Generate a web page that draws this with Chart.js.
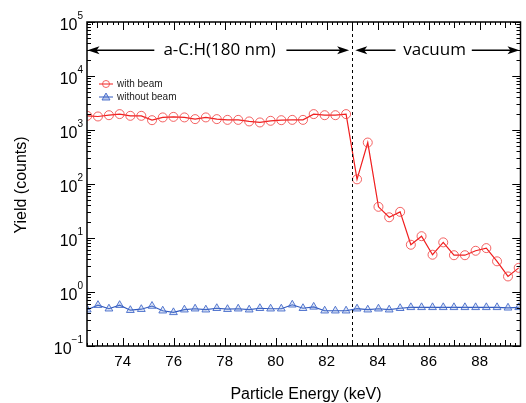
<!DOCTYPE html>
<html>
<head>
<meta charset="utf-8">
<script src="https://cdn.jsdelivr.net/npm/chart.js@4.4.1/dist/chart.umd.min.js"></script>
<style>
html,body{margin:0;padding:0;background:#fff;}
#wrap{width:526px;height:403px;position:relative;}
</style>
</head>
<body>
<div id="wrap"><canvas id="c" width="526" height="403"></canvas></div>
<script>
// ---- data ----
const energies = [72.61,73.03,73.46,73.88,74.30,74.73,75.15,75.57,75.99,76.42,76.84,77.26,77.69,78.11,78.53,78.96,79.38,79.80,80.22,80.65,81.07,81.49,81.92,82.34,82.76,83.19,83.61,84.03,84.45,84.88,85.30,85.72,86.15,86.57,86.99,87.42,87.84,88.26,88.68,89.11,89.53];
const withBeam = [1830,1780,1880,1970,1830,1830,1520,1710,1750,1710,1590,1710,1590,1540,1540,1440,1380,1480,1520,1540,1540,1970,1880,1880,1970,122,586,37.8,24.2,30.5,7.5,10.8,4.9,8.3,4.8,4.8,5.8,6.5,3.7,1.94,2.8];
const withoutBeam = [0.47,0.57,0.49,0.57,0.46,0.48,0.55,0.45,0.42,0.47,0.49,0.47,0.50,0.48,0.49,0.47,0.50,0.49,0.49,0.58,0.50,0.53,0.45,0.45,0.45,0.49,0.47,0.49,0.47,0.50,0.52,0.52,0.52,0.52,0.52,0.52,0.52,0.52,0.52,0.51,0.52];
const seriesNames = ["with beam","without beam"];
const xTickLabels = [74,76,78,80,82,84,86,88];
const yDecades = [-1,0,1,2,3,4,5];
const boundaryEnergy = 83.0;
const regionLabels = ["a-C:H(180 nm)","vacuum"];

const RED = "rgb(240,30,30)";
const REDPT = "rgba(240,60,60,0.8)";
const BLUE = "rgb(50,90,190)";
const BLUEPT = "rgba(60,100,200,0.85)";

const frame = {
  id:'frame',
  afterDraw(chart){
    const ctx = chart.ctx, a = chart.chartArea;
    const xs = chart.scales.x, ys = chart.scales.y;
    ctx.save();
    // dashed boundary
    ctx.strokeStyle = '#000'; ctx.lineWidth = 1; ctx.setLineDash([3,3]);
    const bx = Math.round(xs.getPixelForValue(boundaryEnergy))+0.5;
    ctx.beginPath(); ctx.moveTo(bx,a.top); ctx.lineTo(bx,a.bottom); ctx.stroke();
    ctx.setLineDash([]);
    // box
    ctx.lineWidth = 1.5;
    ctx.strokeRect(a.left, a.top, a.right-a.left, a.bottom-a.top);
    ctx.lineWidth = 1;
    // x ticks
    for (let k = 726; k <= 896; k++){
      const v = k/10;
      if (Math.abs(v*5 - Math.round(v*5))>1e-6) continue;
      const px = Math.round(xs.getPixelForValue(v))+0.5;
      if (px < a.left || px > a.right) continue;
      let len = 3;
      if (Math.abs(v-Math.round(v))<1e-6) len = (Math.round(v)%2===0)?8:6;
      ctx.beginPath();
      ctx.moveTo(px,a.bottom); ctx.lineTo(px,a.bottom-len);
      ctx.moveTo(px,a.top); ctx.lineTo(px,a.top+len);
      ctx.stroke();
    }
    // y ticks
    for (let d = -1; d <= 4; d++){
      for (let m = 1; m <= 10; m++){
        const v = m*Math.pow(10,d);
        const py = Math.round(ys.getPixelForValue(v))+0.5;
        const len = (m===1||m===10)?8:4;
        ctx.beginPath();
        ctx.moveTo(a.left,py); ctx.lineTo(a.left+len,py);
        ctx.moveTo(a.right,py); ctx.lineTo(a.right-len,py);
        ctx.stroke();
      }
    }
    // x labels
    ctx.fillStyle = '#000';
    ctx.font = '15px "Liberation Sans", Arial, sans-serif';
    ctx.textAlign = 'center'; ctx.textBaseline = 'middle';
    xTickLabels.forEach(v=>{
      ctx.fillText(String(v), xs.getPixelForValue(v), 362);
    });
    // y labels 10^n
    yDecades.forEach(d=>{
      const py = ys.getPixelForValue(Math.pow(10,d));
      const exp = String(d).replace('-','\u2212');
      ctx.font = '10px "Liberation Sans", Arial, sans-serif';
      const ew = ctx.measureText(exp).width;
      ctx.textAlign = 'left'; ctx.textBaseline='middle';
      const ex = 83 - ew;
      ctx.fillText(exp, ex, py-6);
      ctx.font = '16px "Liberation Sans", Arial, sans-serif';
      ctx.textAlign = 'right';
      ctx.fillText('10', ex, py+4);
    });
    // axis titles
    ctx.font = '16px "Liberation Sans", Arial, sans-serif';
    ctx.textAlign = 'center'; ctx.textBaseline='middle';
    ctx.fillText('Particle Energy (keV)', 306, 395);
    ctx.save();
    ctx.translate(22, 185); ctx.rotate(-Math.PI/2);
    ctx.fillText('Yield (counts)', 0, 0);
    ctx.restore();
    // region annotations
    const ay = ys.getPixelForValue(3e4);
    function arrow(x1,x2){ // tip at x2
      const p1 = xs.getPixelForValue(x1), p2 = xs.getPixelForValue(x2);
      const dir = Math.sign(p2-p1);
      ctx.lineWidth = 1.5;
      ctx.beginPath(); ctx.moveTo(p1,ay); ctx.lineTo(p2-dir*8,ay); ctx.stroke();
      ctx.beginPath(); ctx.moveTo(p2,ay); ctx.lineTo(p2-dir*12,ay-4); ctx.lineTo(p2-dir*9,ay); ctx.lineTo(p2-dir*12,ay+4); ctx.closePath(); ctx.fill();
    }
    arrow(75.24,72.62); arrow(80.42,82.88);
    arrow(84.7,83.12); arrow(87.69,89.56);
    ctx.font = '17px "Open Sans", "Liberation Sans", sans-serif';
    ctx.textAlign='center'; ctx.textBaseline='middle';
    ctx.fillText(regionLabels[0], xs.getPixelForValue(77.8), ay);
    ctx.fillText(regionLabels[1], xs.getPixelForValue(86.23), ay);
    // legend
    ctx.font = '10px "Liberation Sans", Arial, sans-serif';
    ctx.textAlign='left';
    const items = [[RED,REDPT,'circle'],[BLUE,BLUEPT,'triangle']];
    items.forEach((it,i)=>{
      const ly = 84 + i*13;
      ctx.strokeStyle = it[0]; ctx.lineWidth=1;
      ctx.beginPath(); ctx.moveTo(99,ly); ctx.lineTo(113,ly); ctx.stroke();
      ctx.strokeStyle = it[1];
      if (it[2]==='circle'){ ctx.beginPath(); ctx.arc(106,ly,3.5,0,Math.PI*2); ctx.stroke(); }
      else { ctx.fillStyle='rgba(60,100,200,0.35)'; ctx.beginPath(); ctx.moveTo(106,ly-4); ctx.lineTo(110,ly+3); ctx.lineTo(102,ly+3); ctx.closePath(); ctx.fill(); ctx.stroke(); }
      ctx.fillStyle = '#222';
      ctx.fillText(seriesNames[i], 117, ly);
    });
    ctx.restore();
  }
};

new Chart(document.getElementById('c'), {
  type:'line',
  data:{
    datasets:[
      {label:seriesNames[0], data: energies.map((e,i)=>({x:e,y:withBeam[i]})),
       borderColor:RED, borderWidth:1.2, pointStyle:'circle', pointRadius:4.5,
       pointBorderColor:REDPT, pointBackgroundColor:'rgba(0,0,0,0)', pointBorderWidth:1, tension:0},
      {label:seriesNames[1], data: energies.map((e,i)=>({x:e,y:withoutBeam[i]})),
       borderColor:BLUE, borderWidth:1.2, pointStyle:'triangle', pointRadius:4.5,
       pointBorderColor:BLUEPT, pointBackgroundColor:'rgba(120,150,220,0.25)', pointBorderWidth:1, tension:0}
    ]
  },
  options:{
    responsive:false, animation:false, devicePixelRatio:1,
    layout:{padding:{left:87,right:2,top:22,bottom:57}},
    plugins:{legend:{display:false},tooltip:{enabled:false}},
    scales:{
      x:{type:'linear',min:72.6,max:89.6,display:false},
      y:{type:'logarithmic',min:0.1,max:100000,display:false}
    }
  },
  plugins:[frame]
});
</script>
</body>
</html>
